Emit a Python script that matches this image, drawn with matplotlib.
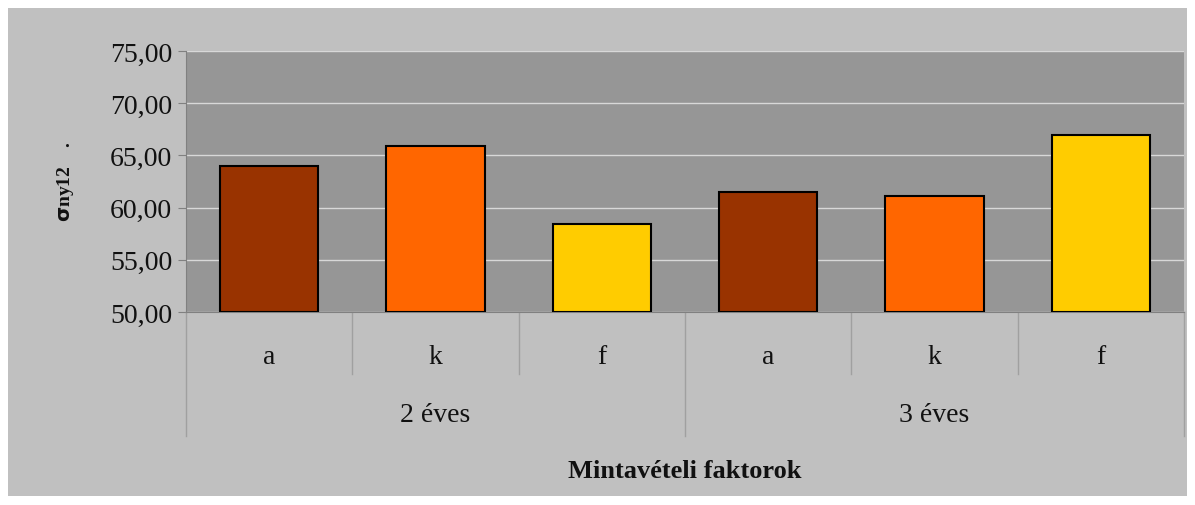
import matplotlib
matplotlib.use("Agg")
import matplotlib.pyplot as plt
from matplotlib.patches import Rectangle

categories = ["a", "k", "f", "a", "k", "f"]
groups = ["2 éves", "3 éves"]
values = [64.0, 65.9, 58.4, 61.5, 61.1, 66.95]
colors = ["#993300", "#FF6600", "#FFCC00", "#993300", "#FF6600", "#FFCC00"]
yticks = [50, 55, 60, 65, 70, 75]

W, H = 1195, 506
fig = plt.figure(figsize=(W/100, H/100), dpi=100)
fig.patch.set_facecolor("white")
fig.patches.append(Rectangle((8/W, 1-497/H), (1187-8)/W, (497-9)/H,
                             transform=fig.transFigure, facecolor="#C0C0C0",
                             edgecolor="none", zorder=-1))

left, right, top, bottom = 186, 1184, 52, 313
ax = fig.add_axes([left/W, 1-bottom/H, (right-left)/W, (bottom-top)/H])
ax.set_facecolor("#969696")
font = "Liberation Serif"

x = list(range(len(values)))
ax.bar(x, [v - 50 for v in values], bottom=50, width=0.59, color=colors,
       edgecolor="black", linewidth=1.5, zorder=3)
ax.set_xlim(-0.5, len(values) - 0.5)
ax.set_ylim(50, 75)
ax.set_yticks(yticks)
ax.set_yticklabels([f"{t:.2f}".replace(".", ",") for t in yticks],
                   fontname=font, fontsize=20, color="#111111")
ax.tick_params(axis="y", length=6, color="#808080", pad=4)
ax.set_xticks([])
ax.grid(axis="y", color="#D8D8D8", linewidth=1, zorder=1)
for s in ["top", "right"]:
    ax.spines[s].set_visible(False)
ax.spines["left"].set_color("#808080")
ax.spines["bottom"].set_color("#808080")

# hierarchical x axis
trans = ax.get_xaxis_transform()
small_depth = (375 - 313) / (bottom - top)
group_depth = (437 - 313) / (bottom - top)
for i in range(len(values) + 1):
    xb = i - 0.5
    d = group_depth if i % 3 == 0 else small_depth
    ax.plot([xb, xb], [0, -d], transform=trans, color="#A0A0A0",
            linewidth=1, clip_on=False)
for i, c in enumerate(categories):
    ax.text(i, -(358 - 313) / (bottom - top), c, transform=trans,
            ha="center", va="center", fontname=font, fontsize=20, color="#111111")
for g, name in enumerate(groups):
    ax.text(g * 3 + 1, -(416 - 313) / (bottom - top), name, transform=trans,
            ha="center", va="center", fontname=font, fontsize=20, color="#111111")

fig.text((left + right) / 2 / W, 1 - 472 / H, "Mintavételi faktorok",
         ha="center", va="center", fontname=font, fontsize=19,
         fontweight="bold", color="#111111")
fig.text(65 / W, 1 - 182 / H, r"$\mathbf{\sigma}$ny12    .", rotation=90,
         ha="center", va="center", fontname=font, fontsize=14,
         fontweight="bold", color="#111111")

fig.savefig("out.png", dpi=100, facecolor=fig.get_facecolor())
